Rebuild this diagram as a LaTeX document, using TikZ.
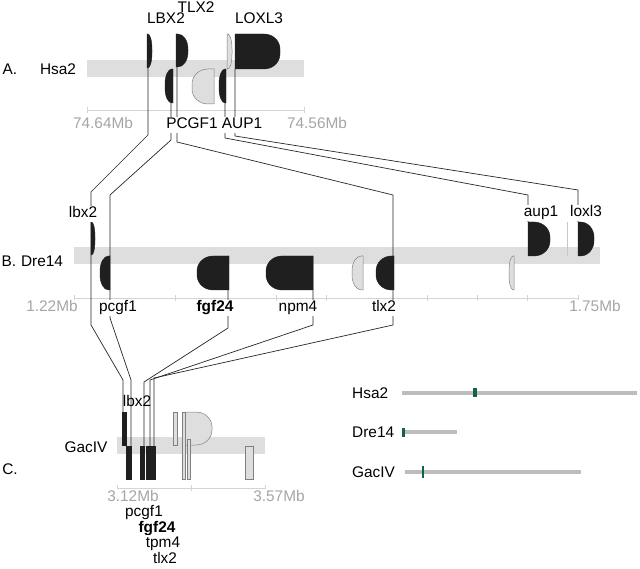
\documentclass[tikz,border=0pt]{standalone}
\usepackage{fontspec}
\setmainfont{Liberation Sans}
\definecolor{markgreen}{HTML}{15614A}
\tikzset{
  genedark/.style={fill=black!88,draw=black!88,line width=0.4pt},
  genelight/.style={fill=black!13,draw=black!50,line width=0.5pt},
  chrbar/.style={fill=black!13},
  axisline/.style={draw=black!17,line width=0.9pt},
  link/.style={draw=black!85,line width=0.7pt},
  glabel/.style={font=\fontsize{15.4}{18}\selectfont,inner sep=0.8pt,text height=11pt,text depth=3pt,fill=white},
  mblabel/.style={glabel,text=black!35},
  spclabel/.style={font=\fontsize{15.4}{18}\selectfont,inner sep=0pt},
  legbar/.style={draw=black!26,line width=4.5pt},
  legmark/.style={fill=markgreen}
}
% flat left side, round right side
\newcommand{\geneR}[5][genedark]{%
  \pgfmathsetmacro\gRx{min(0.85*(#4-#2),16)}%
  \pgfmathsetmacro\gRy{min((#5-#3)/2,15)}%
  \draw[#1] (#2,#3) -- ({#4-\gRx},#3) arc[start angle=-90,end angle=0,x radius=\gRx,y radius=\gRy]
    -- (#4,{#5-\gRy}) arc[start angle=0,end angle=90,x radius=\gRx,y radius=\gRy] -- (#2,#5) -- cycle;}
% round left side, flat right side
\newcommand{\geneL}[5][genedark]{%
  \pgfmathsetmacro\gRx{min(0.85*(#4-#2),16)}%
  \pgfmathsetmacro\gRy{min((#5-#3)/2,15)}%
  \draw[#1] (#4,#3) -- (#4,#5) -- ({#2+\gRx},#5) arc[start angle=90,end angle=180,x radius=\gRx,y radius=\gRy]
    -- (#2,{#3+\gRy}) arc[start angle=180,end angle=270,x radius=\gRx,y radius=\gRy] -- cycle;}
\begin{document}
\begin{tikzpicture}[x=1pt,y=-1pt]
  \useasboundingbox (0,0) rectangle (640,569);

  %%%%%%%%%%%%%Chromosome bars and axes%%%%%%%%%%%%%%%%%%%%%%
  \fill[chrbar] (87,60) rectangle (304,77);
  \fill[chrbar] (74,247) rectangle (600,264);
  \fill[chrbar] (117,437) rectangle (265,454);

  \draw[axisline] (87,110) -- (304,110);
  \foreach \t in {87,304} \draw[axisline] (\t,107) -- (\t,113);
  \draw[axisline] (74,298) -- (578,298);
  \foreach \t in {74,175,276,326,427,477,527,578} \draw[axisline] (\t,295) -- (\t,301);
  \draw[axisline] (117,488) -- (265,488);
  \foreach \t in {117,191,265} \draw[axisline] (\t,485) -- (\t,491);

  %%%%%%%%%%%%%Connector ends%%%%%%%%%%%%%%%%%%%%%%
  \coordinate (A-lbx2) at (148,68);
  \coordinate (A-pcgf1) at (171,103);
  \coordinate (A-tlx2) at (177,67);
  \coordinate (A-aup1) at (225,103);
  \coordinate (A-loxl3) at (235,69);
  \coordinate (B-lbx2) at (91,222);
  \coordinate (B-pcgf1) at (110,256);
  \coordinate (B-fgf24) at (228,256);
  \coordinate (B-npm4) at (313,256);
  \coordinate (B-tlx2) at (393,256);
  \coordinate (B-aup1) at (528,222);
  \coordinate (B-loxl3) at (578,222);
  \coordinate (C-lbx2) at (123,412);
  \coordinate (C-pcgf1) at (131,446);
  \coordinate (C-fgf24) at (144,446);
  \coordinate (C-tpm4) at (150,446);
  \coordinate (C-tlx2) at (154,446);

  %%%%%%%%%%%%%Hsa2 to Dre14%%%%%%%%%%%%%%%%%%%%%%
  \draw[link] (A-lbx2) -- (148,135) -- (91,192) -- (B-lbx2);
  \draw[link] (A-pcgf1) -- (171,140) -- (110,195) -- (B-pcgf1);
  \draw[link] (A-tlx2) -- (177,142) -- (393,195) -- (B-tlx2);
  \draw[link] (A-aup1) -- (225,138) -- (528,195) -- (B-aup1);
  \draw[link] (A-loxl3) -- (235,136) -- (578,190) -- (B-loxl3);

  %%%%%%%%%%%%%Dre14 to GacIV%%%%%%%%%%%%%%%%%%%%%%
  \draw[link] (B-lbx2) -- (91,325) -- (123,380) -- (C-lbx2);
  \draw[link] (B-pcgf1) -- (110,318) -- (131,380) -- (C-pcgf1);
  \draw[link] (B-fgf24) -- (228,328) -- (144,382) -- (C-fgf24);
  \draw[link] (B-npm4) -- (313,325) -- (150,380) -- (C-tpm4);
  \draw[link] (B-tlx2) -- (393,325) -- (154,378) -- (C-tlx2);

  %%%%%%%%%%%%%Genes Hsa2%%%%%%%%%%%%%%%%%%%%%%
  \geneR{147}{34}{152}{68}
  \geneR{176}{34}{188}{67}
  \geneL{165}{69}{173}{103}
  \geneL[genelight]{192}{69}{214}{104}
  \geneL{219}{69}{226}{103}
  \geneR[genelight]{227}{34}{232}{69}
  \geneR{235}{34}{280}{69}

  %%%%%%%%%%%%%Genes Dre14%%%%%%%%%%%%%%%%%%%%%%
  \geneR{91}{222}{95}{255}
  \geneL{100}{256}{110}{290}
  \geneL{197}{256}{229}{290}
  \geneL{266}{256}{313}{290}
  \geneL[genelight]{352}{256}{363}{290}
  \geneL{376}{256}{394}{290}
  \geneL[genelight]{509}{256}{514}{290}
  \geneR{528}{222}{550}{256}
  \draw[black!22,line width=1pt] (567,222) -- (567,256);
  \geneR{578}{222}{594}{256}

  %%%%%%%%%%%%%Genes GacIV%%%%%%%%%%%%%%%%%%%%%%
  \draw[genedark] (122,412) rectangle (126,445);
  \draw[genedark] (126,446) rectangle (131,479);
  \draw[genedark] (140,446) rectangle (144,479);
  \draw[genedark] (146,446) rectangle (150,479);
  \draw[genedark] (151,446) rectangle (155,479);
  \draw[genelight] (173,412) rectangle (177,445);
  \geneR[genelight]{185}{412}{212}{445}
  \draw[genelight] (182,412) rectangle (185,479);
  \draw[genelight] (187,439) rectangle (190,479);
  \draw[genelight] (245,446) rectangle (253,479);

  %%%%%%%%%%%%%Labels%%%%%%%%%%%%%%%%%%%%%%
  \node[spclabel] (lblA) at (10,69) {A.};
  \node[spclabel] (lblHsa) at (58,69) {Hsa2};
  \node[spclabel] (lblB) at (9,261) {B.};
  \node[spclabel] (lblDre) at (42,261) {Dre14};
  \node[spclabel] (lblC) at (10,469) {C.};
  \node[spclabel] (lblGac) at (86,447) {GacIV};

  \node[glabel,fill=none] (tA-lbx2) at (166,20) {LBX2};
  \node[glabel,fill=none] (tA-tlx2) at (196,9) {TLX2};
  \node[glabel,fill=none] (tA-loxl3) at (259,20) {LOXL3};
  \node[glabel] (tA-pcgf1) at (192,125) {PCGF1};
  \node[glabel] (tA-aup1) at (242,125) {AUP1};
  \node[mblabel] (mA-left) at (103,125) {74.64Mb};
  \node[mblabel] (mA-right) at (317,125) {74.56Mb};

  \node[glabel] (tB-lbx2) at (83,214) {lbx2};
  \node[glabel] (tB-aup1) at (541,213) {aup1};
  \node[glabel] (tB-loxl3) at (586,213) {loxl3};
  \node[glabel] (tB-pcgf1) at (118,308) {pcgf1};
  \node[glabel,font=\fontsize{15.4}{18}\selectfont\bfseries] (tB-fgf24) at (215,308) {fgf24};
  \node[glabel] (tB-npm4) at (298,308) {npm4};
  \node[glabel] (tB-tlx2) at (384,308) {tlx2};
  \node[mblabel] (mB-left) at (52,308) {1.22Mb};
  \node[mblabel] (mB-right) at (595,308) {1.75Mb};

  \node[glabel,fill=none] (tC-lbx2) at (137,402) {lbx2};
  \node[mblabel] (mC-left) at (133,497) {3.12Mb};
  \node[mblabel] (mC-right) at (279,497) {3.57Mb};
  \node[glabel] (tC-pcgf1) at (144,512) {pcgf1};
  \node[glabel,font=\fontsize{15.4}{18}\selectfont\bfseries] (tC-fgf24) at (157,528) {fgf24};
  \node[glabel] (tC-tpm4) at (163,543) {tpm4};
  \node[glabel] (tC-tlx2) at (165,559) {tlx2};

  %%%%%%%%%%%%%Chromosome overview%%%%%%%%%%%%%%%%%%%%%%
  \node[spclabel,anchor=west] (kHsa) at (352,393) {Hsa2};
  \node[spclabel,anchor=west] (kDre) at (352,432) {Dre14};
  \node[spclabel,anchor=west] (kGac) at (352,472) {GacIV};
  \draw[legbar] (402,393) -- (637,393);
  \draw[legbar] (402,432) -- (457,432);
  \draw[legbar] (405,472) -- (581,472);
  \fill[legmark] (473,388) rectangle (477,397);
  \fill[legmark] (402,428) rectangle (405,437);
  \fill[legmark] (421.5,466) rectangle (423.5,478);
\end{tikzpicture}
\end{document}
